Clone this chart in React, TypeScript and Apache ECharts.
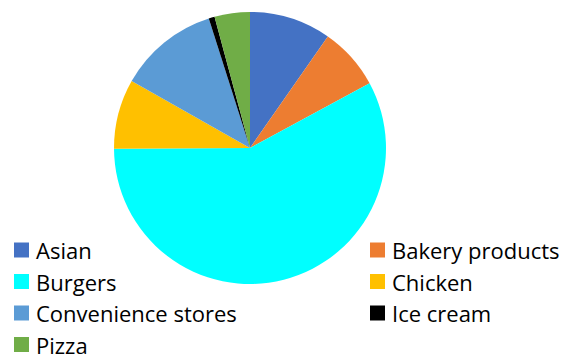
import React, { useEffect, useRef } from "react";
import * as echarts from "echarts";

const categories = ["Asian", "Bakery products", "Burgers", "Chicken", "Convenience stores", "Ice cream", "Pizza"];
const values = [9.7, 7.4, 57.8, 8.3, 11.9, 0.7, 4.2];
const colors = ["#4472C4", "#ED7D31", "#00FFFF", "#FFC000", "#5B9BD5", "#000000", "#70AD47"];
const leftLegend = ["Asian", "Burgers", "Convenience stores", "Pizza"];
const rightLegend = ["Bakery products", "Chicken", "Ice cream"];

export default function App() {
  const ref = useRef<HTMLDivElement>(null);
  useEffect(() => {
    document.body.style.margin = "0";
    const chart = echarts.init(ref.current!, null, { renderer: "svg" });
    const legendBase = {
      orient: "vertical" as const,
      top: 239,
      height: 140,
      padding: 0,
      itemWidth: 15,
      itemHeight: 15,
      itemGap: 9.5,
      icon: "rect",
      selectedMode: false,
      textStyle: {
        fontFamily: "Open Sans",
        fontSize: 22,
        color: "#000",
        padding: [0, 0, 0, 2],
      },
    };
    chart.setOption({
      animation: false,
      color: colors,
      legend: [
        { ...legendBase, left: 14, data: leftLegend },
        { ...legendBase, left: 370, data: rightLegend },
      ],
      series: [
        {
          type: "pie",
          center: [250, 148],
          radius: 136,
          startAngle: 90,
          clockwise: true,
          label: { show: false },
          labelLine: { show: false },
          itemStyle: { borderWidth: 0 },
          emphasis: { disabled: true },
          data: categories.map((name, i) => ({ name, value: values[i] })),
        },
      ],
    });
    return () => chart.dispose();
  }, []);
  return <div ref={ref} style={{ width: 583, height: 355, position: "absolute", left: 0, top: 0 }} />;
}
